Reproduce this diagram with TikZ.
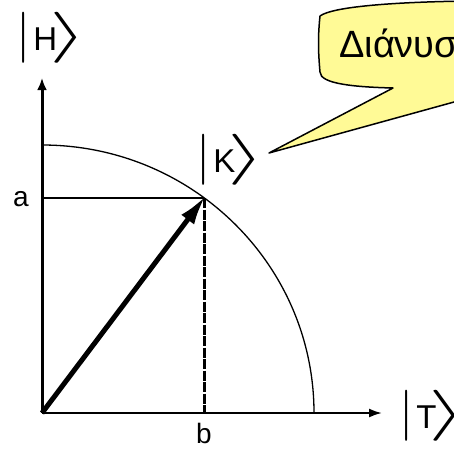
\documentclass[tikz,border=0pt]{standalone}
\usepackage{fontspec}
\setmainfont{Liberation Sans}
\usepackage{graphicx}
\usetikzlibrary{arrows.meta}
\definecolor{calloutyellow}{RGB}{255,250,150}
\newcommand{\ketlabel}[1]{\resizebox*{!}{51pt}{$|$}\kern3pt#1\kern-8pt\resizebox*{38pt}{51pt}{$\rangle$}}

\begin{document}
\begin{tikzpicture}[x=1pt, y=-1pt,
    ket/.style={anchor=base west, inner sep=0pt, font=\fontsize{33}{36}\selectfont},
    coord/.style={anchor=base, inner sep=0pt, font=\fontsize{28}{30}\selectfont},
    axis/.style={draw=black}]
    \useasboundingbox (0,0) rectangle (454,448);

    % Points
    \coordinate (O) at (42,413);
    \coordinate (K) at (204,198);
    \coordinate (Htip) at (42,78);
    \coordinate (Ttip) at (382,413);
    \coordinate (A) at (42,198);
    \coordinate (B) at (204,413);

    % Axes
    \draw[axis, line width=3pt, -{Latex[length=12pt,width=10pt]}] (O) -- (Htip);
    \draw[axis, line width=2pt, -{Latex[length=13pt,width=9pt]}] (O) -- (Ttip);

    % Quarter circle
    \draw[line width=1.3pt] (42,145) arc[start angle=90, end angle=0, x radius=272, y radius=-268];

    % Projections
    \draw[line width=2.8pt] (A) -- (K);
    \draw[line width=3pt, dash pattern=on 10pt off 1.5pt] (K) -- (B);

    % State vector
    \draw[line width=5pt, -{Latex[length=30pt,width=16pt]}, shorten >=-3pt] (O) -- (K);

    % Labels
    \node[coord] (la) at (21,206) {a};
    \node[coord] (lb) at (204,443) {b};
    \node[ket] (ketH) at (16,50) {\ketlabel{H}};
    \node[ket] (ketK) at (196,172) {\ketlabel{K}};
    \node[ket] (ketT) at (399,428) {\ketlabel{T}};

    % Callout
    \begin{scope}
        \clip (0,0) rectangle (454,448);
        \filldraw[fill=calloutyellow, draw=black, line width=1.5pt, line join=round]
            (320,16) .. controls (332,7) and (390,2) .. (470,1)
            -- (470,97.6) -- (269,153) -- (393,88)
            .. controls (355,87) and (320,84) .. (320,72)
            .. controls (318,50) and (318,35) .. cycle;
        \node[anchor=base west, inner sep=0pt, font=\fontsize{38}{40}\selectfont] (callout) at (339,57) {Διάνυσμα};
    \end{scope}
\end{tikzpicture}
\end{document}
